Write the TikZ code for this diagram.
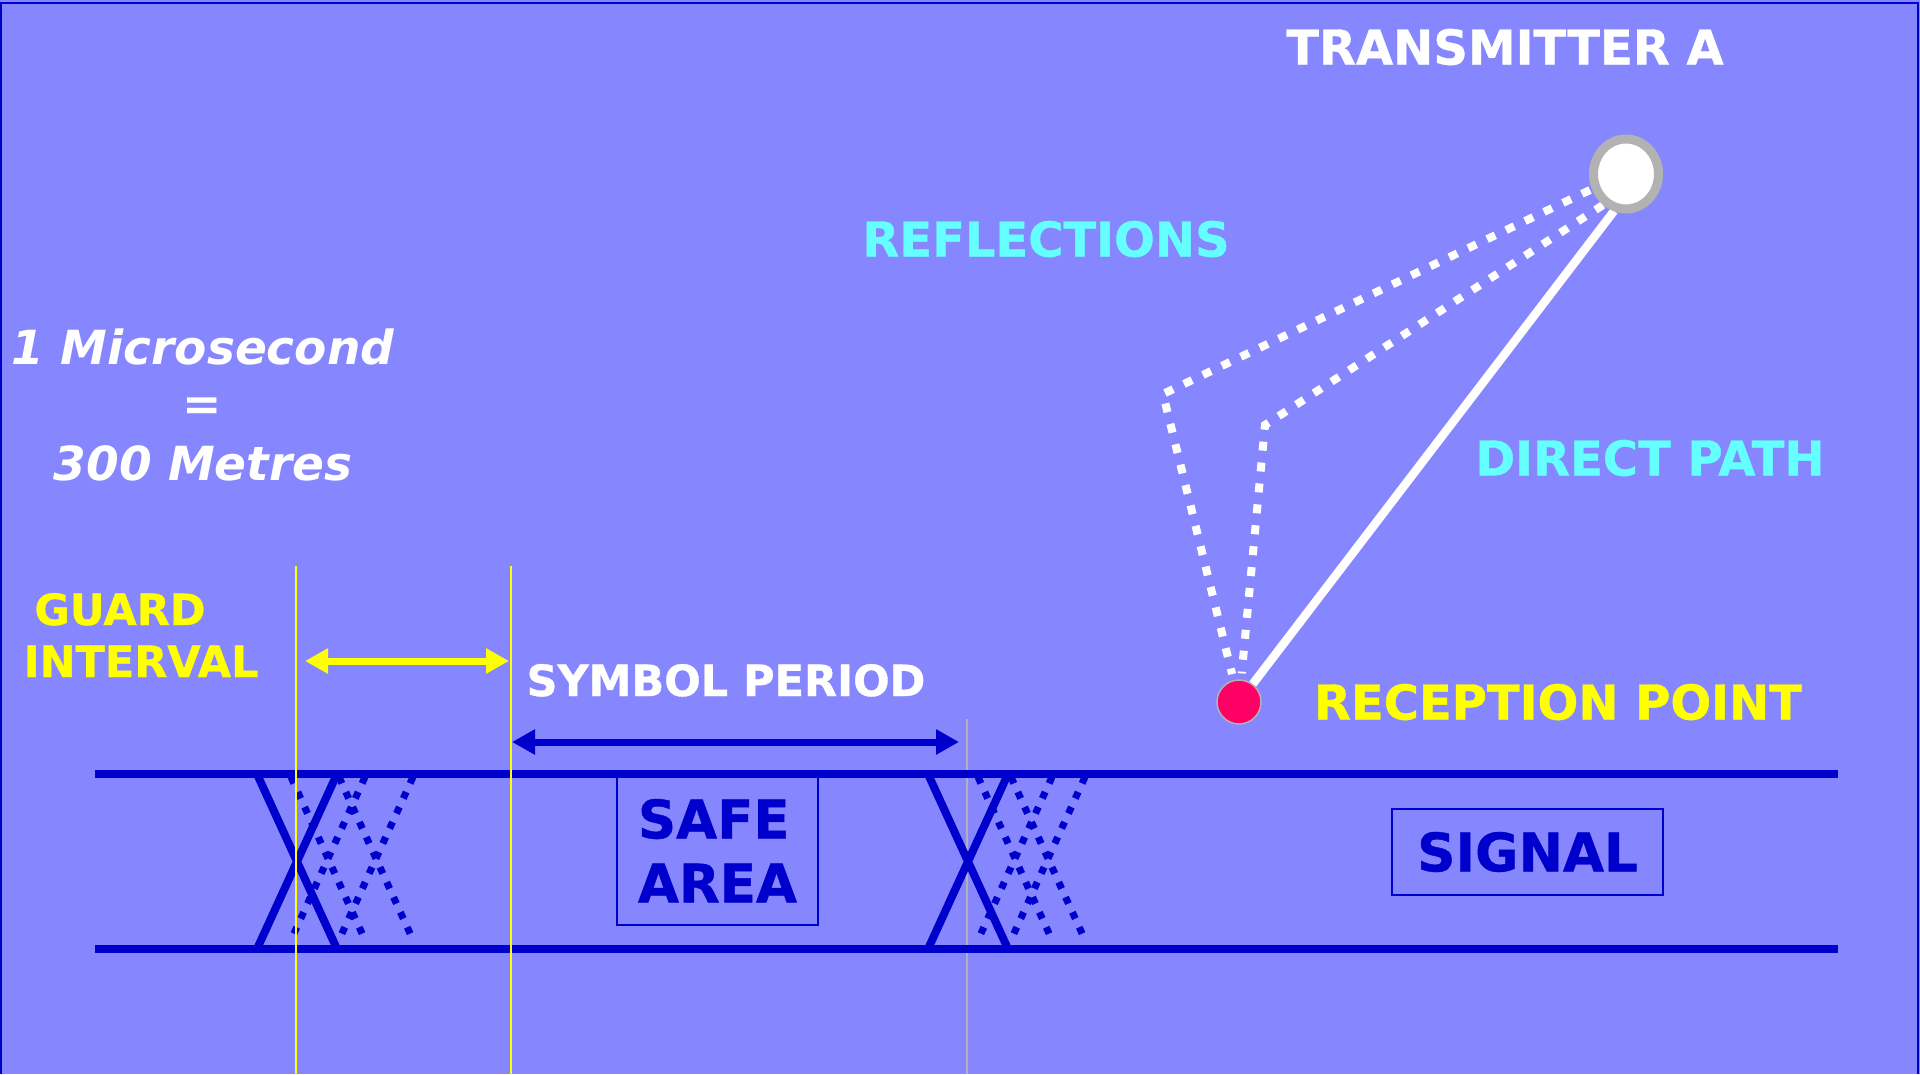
\documentclass[tikz,border=0pt]{standalone}
\usepackage{fontspec}
\setmainfont{DejaVu Sans}[BoldFeatures={FakeBold=0.8}]
\usetikzlibrary{arrows.meta,shapes.geometric}
\definecolor{slide}{HTML}{8686FF}
\definecolor{navy}{HTML}{0000CC}
\definecolor{aqua}{HTML}{66FFFF}
\definecolor{sun}{HTML}{FFFF00}
\definecolor{ruby}{HTML}{FF0066}
\definecolor{ash}{HTML}{B2B2B2}

\begin{document}
\begin{tikzpicture}[x=1pt,y=-1pt,
  txt/.style={inner sep=0pt, anchor=base, font=\fontsize{48}{58}\selectfont\bfseries},
  midtxt/.style={txt, font=\fontsize{43}{52}\selectfont\bfseries},
  ital/.style={txt, text=white, font=\fontsize{47}{56}\selectfont\bfseries\itshape},
  boxtxt/.style={draw=navy, line width=2pt, text=navy, font=\fontsize{53}{64}\selectfont\bfseries},
  txnode/.style={ellipse, draw=ash, line width=9pt, fill=white, minimum width=65pt, minimum height=70pt, inner sep=0pt},
  rxnode/.style={circle, draw=ash, line width=1.5pt, fill=ruby, minimum size=44pt, inner sep=0pt},
  direct/.style={white, line width=8.5pt},
  reflect/.style={white, line width=8pt, dash pattern=on 9pt off 12pt, shorten >=6pt},
  band/.style={navy, line width=8.5pt},
  eye/.style={navy, line width=8pt},
  eyedot/.style={navy, line width=7pt, dash pattern=on 7pt off 9.5pt},
  marker/.style={sun, line width=2pt},
  guardarrow/.style={sun, line width=7pt, {Triangle[length=23pt,width=24pt]}-{Triangle[length=23pt,width=24pt]}},
  symarrow/.style={navy, line width=7pt, {Triangle[length=23pt,width=24pt]}-{Triangle[length=23pt,width=24pt]}}
]
\useasboundingbox (0,0) rectangle (1920,1074);
\fill[slide] (0,0) rectangle (1920,1074);
\draw[navy, line width=2pt] (1,1074) -- (1,3) -- (1918,3) -- (1918,1074);

\draw[ash, line width=2pt] (967,719) -- (967,1074);
\draw[band] (95,774) -- (1838,774);
\draw[band] (95,949) -- (1838,949);
\foreach \c in {297,968}
  \draw[eye] (\c-40,774) -- (\c+40,949) (\c+40,774) -- (\c-40,949);
\foreach \c in {328,376,1015,1048}
  \draw[eyedot] (\c-37,777) -- (\c+37,940) (\c+37,777) -- (\c-37,940);
\draw[marker] (296,566) -- (296,1074);
\draw[marker] (511,566) -- (511,1074);

\node[boxtxt, align=left, anchor=north west, inner xsep=20pt, inner ysep=23pt, minimum width=201pt] (safe) at (616,775) {SAFE\\AREA};
\node[boxtxt, minimum width=271pt, minimum height=86pt, inner sep=0pt] (signal) at (1527.5,852) {SIGNAL};

\coordinate (g1) at (305,661);
\coordinate (g2) at (509,661);
\coordinate (s1) at (512,742);
\coordinate (s2) at (959,742);
\draw[guardarrow] (g1) -- (g2);
\draw[symarrow] (s1) -- (s2);

\node[ital] (usec) at (203,364) {1 Microsecond};
\node[ital] (eq) at (202,420) {=};
\node[ital] (metres) at (203,480) {300 Metres};
\node[midtxt, text=sun] (guard) at (120,625) {GUARD};
\node[midtxt, text=sun] (intv) at (141,677) {INTERVAL};
\node[midtxt, text=white] (sym) at (726,696) {SYMBOL PERIOD};

\node[txt, text=white] (txlbl) at (1505,64.5) {TRANSMITTER A};
\node[txt, text=aqua] (refl) at (1046,256.5) {REFLECTIONS};
\node[txt, text=aqua] (dpath) at (1650,475.5) {DIRECT PATH};
\node[txt, text=sun] (rxlbl) at (1558,719.5) {RECEPTION POINT};

\coordinate (bounce1) at (1163,394);
\coordinate (bounce2) at (1265,425);
\node[rxnode] (rx) at (1239,702) {};
\draw[reflect] (1590,190) -- (bounce1) -- (rx);
\draw[reflect] (1603,205) -- (bounce2) -- (rx);
\draw[direct] (1614,211) -- (rx);
\node[txnode] (tx) at (1626,174) {};
\end{tikzpicture}
\end{document}
